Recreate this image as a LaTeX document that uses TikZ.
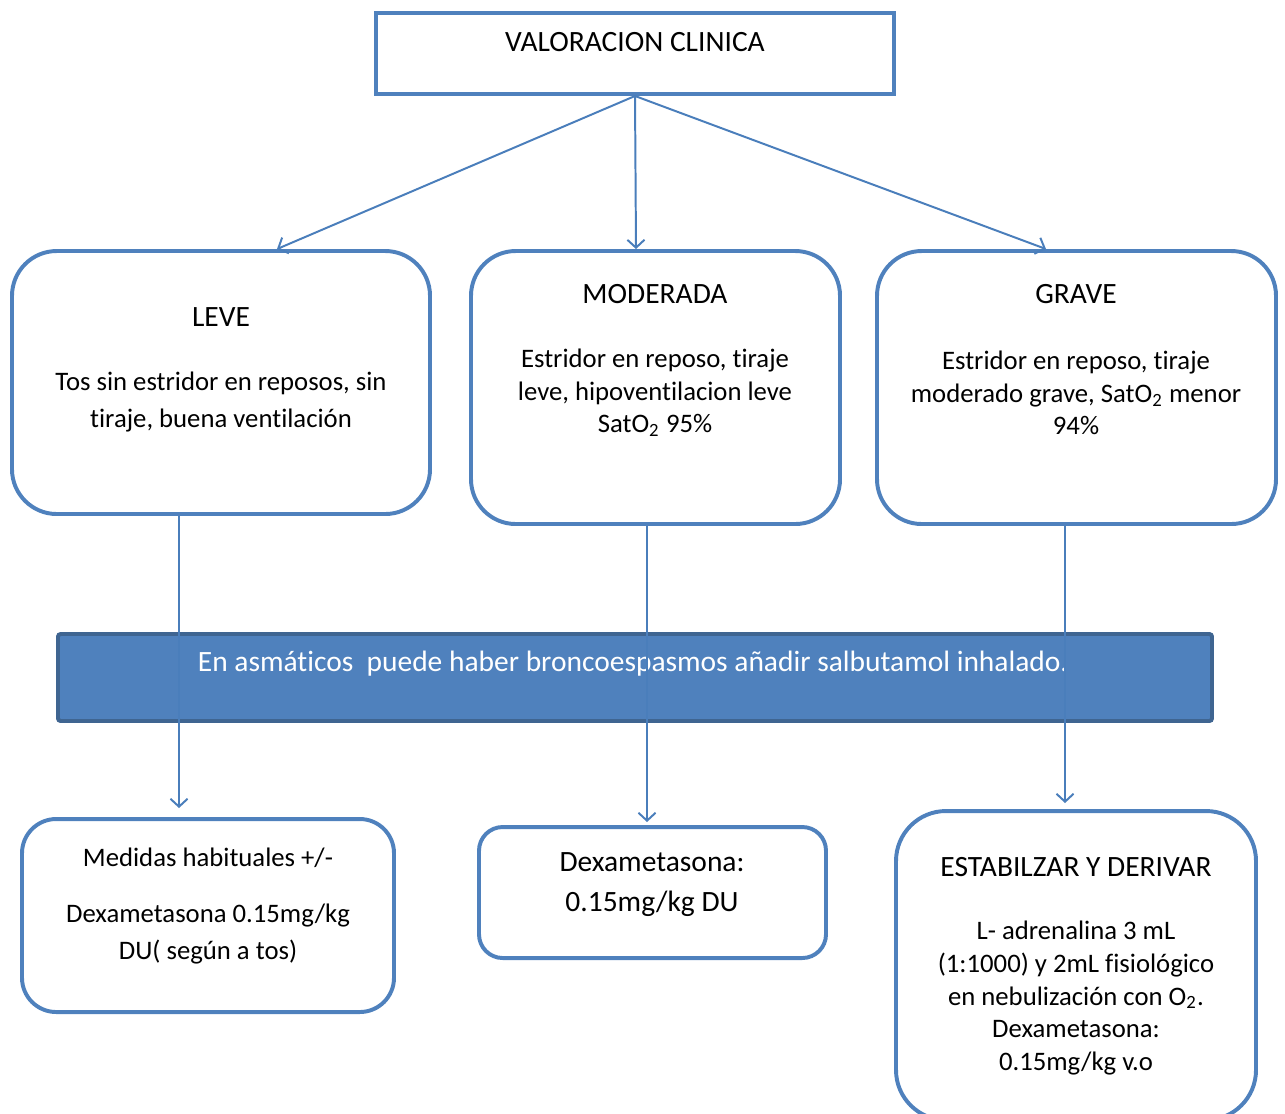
\documentclass[tikz,border=0pt]{standalone}
\usepackage{fontspec}
\setmainfont{Carlito}[Ligatures=NoCommon]
\usetikzlibrary{arrows.meta,calc}
\definecolor{boxblue}{HTML}{4F81BD}
\definecolor{bandedge}{HTML}{3F6591}
\definecolor{lineblue}{HTML}{4A7EBB}
\newcommand{\px}[1]{#1*0.38pt}
\tikzset{
  casebox/.style={draw=boxblue, line width=1.5pt, inner sep=0pt},
  flow/.style={draw=lineblue, line width=0.75pt, -{Straight Barb[length=3pt,width=6.5pt]}},
  txt/.style={align=center, inner sep=0pt, font=\fontsize{10.15pt}{12.4pt}\selectfont},
  headtxt/.style={txt, font=\fontsize{11.2pt}{13pt}\selectfont},
}
\begin{document}
\begin{tikzpicture}[x=0.38pt, y=-0.38pt]
            % Page frame in pixel units of the original
            \useasboundingbox (0,0) rectangle (1285,1113);

            % Top box
            \node[casebox, minimum width=\px{518}, minimum height=\px{81}] (top) at (635,53.5) {};
            \node[headtxt] (toptxt) at (635,42) {VALORACION CLINICA};

            % Severity boxes
            \node[casebox, rounded corners=17pt, minimum width=\px{418}, minimum height=\px{263}] (leve) at (221,382.5) {};
            \node[casebox, rounded corners=17pt, minimum width=\px{369}, minimum height=\px{273}] (moderada) at (655.5,387.5) {};
            \node[casebox, rounded corners=17pt, minimum width=\px{399}, minimum height=\px{273}] (grave) at (1076.5,387.5) {};

            \node[headtxt] (levehead) at (221,317) {LEVE};
            \node[txt, font=\fontsize{10.15pt}{14.4pt}\selectfont] (levebody) at (221,402)
              {Tos sin estridor en reposos, sin\\tiraje, buena ventilación};
            \node[headtxt] (modhead) at (655,294) {MODERADA};
            \node[txt] (modbody) at (655,393)
              {Estridor en reposo, tiraje\\leve, hipoventilacion leve\\SatO\textsubscript{2} 95\%};
            \node[headtxt] (gravehead) at (1076,294) {GRAVE};
            \node[txt] (gravebody) at (1076,393)
              {Estridor en reposo, tiraje\\moderado grave, SatO\textsubscript{2} menor\\94\%};

            % Arrows from the top box
            \coordinate (xL) at (277,0);
            \coordinate (xM) at (636,0);
            \coordinate (xG) at (1046,0);
            \draw[flow] (top.south) -- (leve.north -| xL);
            \draw[flow] (top.south) -- (moderada.north -| xM);
            \draw[flow] (top.south) -- (grave.north -| xG);

            % Banner
            \node[fill=boxblue, draw=bandedge, line width=1.5pt, rounded corners=1pt,
              minimum width=\px{1154}, minimum height=\px{87}, inner sep=0pt] (band) at (635,677.5) {};
            \node[headtxt, text=white] (bandtxt) at (633,664)
              {En asmáticos\ \ puede haber broncoespasmos añadir salbutamol inhalado.};

            % Treatment boxes
            \node[casebox, rounded corners=13pt, minimum width=\px{372}, minimum height=\px{193}] (trleve) at (208,915.5) {};
            \node[casebox, rounded corners=9pt, minimum width=\px{347}, minimum height=\px{131}] (trmod) at (652.5,892.5) {};
            \node[casebox, rounded corners=19pt, minimum width=\px{360}, minimum height=\px{309}] (trgrave) at (1076,965.5) {};

            \node[txt] (trlevehead) at (208,858) {Medidas habituales +/-};
            \node[txt, font=\fontsize{10.15pt}{13.7pt}\selectfont] (trlevebody) at (208,934)
              {Dexametasona 0.15mg/kg\\DU( según a tos)};
            \node[headtxt, font=\fontsize{11.2pt}{15.2pt}\selectfont] (trmodbody) at (652,885)
              {Dexametasona:\\0.15mg/kg DU};
            \node[headtxt] (trgravehead) at (1076,867) {ESTABILZAR Y DERIVAR};
            \node[txt] (trgravebody) at (1076,998)
              {L- adrenalina 3 mL\\(1:1000) y 2mL fisiológico\\en nebulización con O\textsubscript{2}.\\Dexametasona:\\0.15mg/kg v.o};

            % Drops through the banner
            \coordinate (dL) at (179,808);
            \coordinate (dM) at (647,822);
            \coordinate (dG) at (1065,803);
            \draw[flow] (leve.south -| dL) -- (dL);
            \draw[flow] (moderada.south -| dM) -- (dM);
            \draw[flow] (grave.south -| dG) -- (dG);
        \end{tikzpicture}
\end{document}
